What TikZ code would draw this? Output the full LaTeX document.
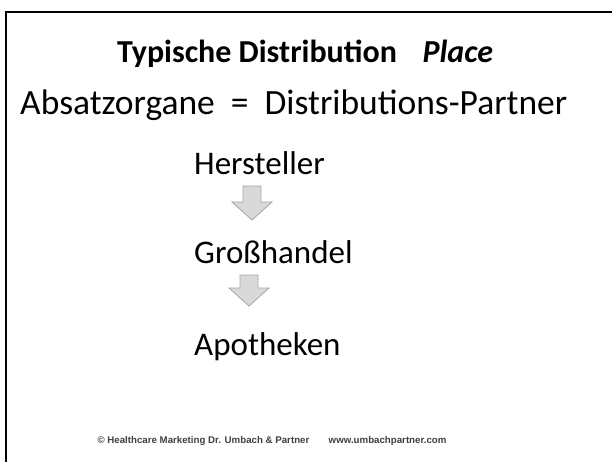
\documentclass[tikz,border=0pt]{standalone}
\usepackage{fontspec}
\setmainfont{Carlito}
\newfontfamily\footfont{Liberation Sans}
\definecolor{arrowfill}{HTML}{D9D9D9}
\definecolor{arrowline}{HTML}{A6A6A6}
\definecolor{foottext}{HTML}{404040}
\tikzset{
  x=1pt, y=-1pt,
  body/.style={anchor=base west, inner sep=0pt, font=\fontsize{33}{40}\selectfont},
  title/.style={anchor=base, inner sep=0pt, font=\fontsize{32}{40}\selectfont\bfseries},
  flowarrow/.style={fill=arrowfill, draw=arrowline, line width=0.8pt, line join=miter},
  footer/.style={anchor=base, inner sep=0pt, text=foottext, font=\footfont\fontsize{9.7}{12}\selectfont\bfseries}
}
\begin{document}
\begin{tikzpicture}
\useasboundingbox (0,0) rectangle (612,462);
\fill[white] (0,0) rectangle (612,462);
% slide frame (open at right and bottom)
\draw[line width=2pt] (6,470) -- (6,12) -- (620,12);

\node[title] (ttl) at (305,63) {Typische Distribution\hspace{0.8em}\itshape Place};
\node[body, font=\fontsize{35.5}{42}\selectfont] (sub) at (20,115) {Absatzorgane\ \ =\ \ Distributions-Partner};

\node[body] (h) at (194,175) {Hersteller};
\node[body] (g) at (194,263) {Großhandel};
\node[body] (a) at (194,355) {Apotheken};

% block arrows between the stages
\draw[flowarrow] (243,186) -- (261,186) -- (261,202) -- (272,202) -- (252,220) -- (232,202) -- (243,202) -- cycle;
\draw[flowarrow] (240,275) -- (258,275) -- (258,288) -- (269,288) -- (249,306) -- (229,288) -- (240,288) -- cycle;

\node[footer] (ft) at (272,443) {© Healthcare Marketing Dr. Umbach \& Partner\hspace{2em}www.umbachpartner.com};
\end{tikzpicture}
\end{document}
